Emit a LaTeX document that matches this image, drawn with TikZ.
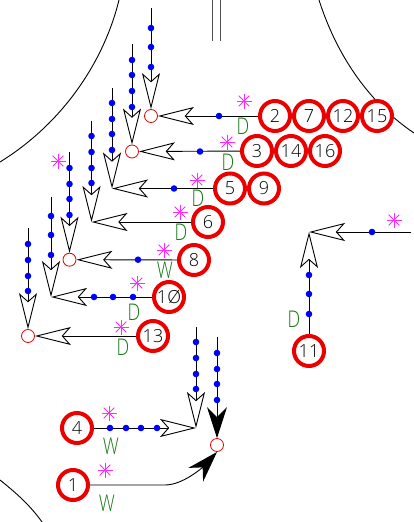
\documentclass[tikz,border=0pt]{standalone}
\usepackage{fontspec}
\setmainfont{Open Sans Light}
\newfontfamily\signfont[FakeStretch=0.78]{Open Sans Light}
\usetikzlibrary{arrows.meta}
\definecolor{signgreen}{RGB}{20,120,20}
\definecolor{pedpink}{RGB}{255,40,255}
\definecolor{phasered}{RGB}{235,0,0}
\definecolor{dotblue}{RGB}{0,0,255}
\tikzset{
  phase/.style={shape=circle,draw=phasered,line width=4pt,fill=white,inner sep=0pt,minimum size=30pt,font=\fontsize{18}{18}\selectfont,text=black},
  junction/.style={shape=circle,draw=phasered,fill=white,line width=0.8pt,inner sep=0pt,minimum size=13pt},
  dot/.style={shape=circle,fill=dotblue,inner sep=0pt,minimum size=6.6pt},
  sign/.style={text=signgreen,inner sep=0pt,font=\signfont\fontsize{23}{23}\selectfont},
  openhead/.style={-{Stealth[open,length=36pt,width=18pt,inset=8pt,line width=0.9pt]}},
  fullhead/.style={-{Stealth[length=31pt,width=20pt,inset=10pt]}},
  pics/ped/.style={code={\foreach \a in {0,45,90,135} \draw[-,pedpink,line width=0.9pt] (\a:7.5pt) -- (\a+180:7.5pt);}}
}
\begin{document}
\begin{tikzpicture}[x=1pt,y=-1pt,line width=0.9pt,openhead]
  \useasboundingbox (0,0) rectangle (414,522);
  % kerb lines
  \draw[-] (119,0) .. controls (103,65) and (60,125) .. (0,162);
  \draw[-] (319,0) .. controls (335,50) and (365,100) .. (414,133);
  \draw[-] (0,480) .. controls (15,492) and (30,505) .. (42,522);
  \draw[-,black!70] (212,0) -- (212,41);
  \draw[-,black!70] (220,0) -- (220,41);
  % junctions
  \node[junction](J2)at(151, 116){};
  \node[junction](J3)at(132, 151.5){};
  \coordinate (J5) at (112, 188.5);
  \coordinate (J6) at (91.5, 222);
  \node[junction](J8)at(69.5, 259.7){};
  \coordinate (J10) at (51, 297);
  \node[junction](J13)at(28, 336){};
  \coordinate (J4) at (196, 428);
  \node[junction](J1)at(217, 445){};
  \coordinate (J1in) at (217, 452);
  \coordinate (J11) at (309, 232);
  % stem tops
  \coordinate (T2) at (151, 8);
  \coordinate (T3) at (132, 44);
  \coordinate (T5) at (112, 88);
  \coordinate (T6) at (91.5, 121);
  \coordinate (T8) at (69.5, 152);
  \coordinate (T10) at (51, 197);
  \coordinate (T13) at (28, 228);
  \coordinate (T4) at (196, 327);
  \coordinate (T1) at (217, 337);
  \coordinate (E11) at (411, 232);
  \coordinate (C1) at (165, 485);
  % phases
  \node[phase](2)at(275, 116){2};
  \node[phase](7)at(309, 116){7};
  \node[phase](12)at(343, 116){12};
  \node[phase](15)at(377, 116){15};
  \node[phase](3)at(257, 151){3};
  \node[phase](14)at(291, 151){14};
  \node[phase](16)at(325, 151){16};
  \node[phase](5)at(230, 188.5){5};
  \node[phase](9)at(264, 188.5){9};
  \node[phase](6)at(208, 222){6};
  \node[phase](8)at(194, 260){8};
  \node[phase](10)at(169, 297){1Ø};
  \node[phase](13)at(153, 336){13};
  \node[phase](4)at(77, 428){4};
  \node[phase](1)at(73, 485){1};
  \node[phase](11)at(309, 351){11};
  % connectors
  \path (T2) edge (J2)
        (2) edge (J2)
        (T3) edge (J3)
        (3) edge (J3)
        (T5) edge (J5)
        (5) edge (J5)
        (T6) edge (J6)
        (6) edge (J6)
        (T8) edge (J8)
        (8) edge (J8)
        (T10) edge (J10)
        (10) edge (J10)
        (T13) edge (J13)
        (13) edge (J13)
        (T4) edge (J4)
        (4) edge (J4)
        (11) edge (J11)
        (E11) edge (J11);
  \draw[fullhead] (T1) -- (J1);
  \draw[fullhead] (1) -- (C1) .. controls (183,485) and (203,467) .. (J1in);
  % dots
  \foreach \y in {28,47,67} \node[dot](a\y)at(151,\y){};
  \foreach \y in {60,75,91,107} \node[dot](b\y)at(132,\y){};
  \foreach \y in {103,119,134,150} \node[dot](c\y)at(112,\y){};
  \foreach \y in {136,152,168,183} \node[dot](d\y)at(91.5,\y){};
  \foreach \y in {168,184,199,215} \node[dot](e\y)at(69.5,\y){};
  \foreach \y in {216,235,255} \node[dot](f\y)at(51,\y){};
  \foreach \y in {244,260,276,291} \node[dot](g\y)at(28,\y){};
  \foreach \y in {342,358,374,389} \node[dot](h\y)at(196,\y){};
  \foreach \y in {353,369,384,400} \node[dot](i\y)at(217,\y){};
  \foreach \y in {275,294,314} \node[dot](k\y)at(309,\y){};
  \foreach \x in {94,113,133} \node[dot](m\x)at(\x,297){};
  \foreach \x in {110,126,141,157} \node[dot](n\x)at(\x,428){};
  \node[dot](o2)at(219,116){};
  \node[dot](o3)at(200,151.5){};
  \node[dot](o5)at(174,188.5){};
  \node[dot](o8)at(138,259.7){};
  \node[dot](o11)at(372,232){};
  % signs
  \node[sign](s2)at(243,126){D};
  \node[sign](s3)at(228,162){D};
  \node[sign](s5)at(198,198){D};
  \node[sign](s6)at(181,232){D};
  \node[sign](s8)at(165,270){W};
  \node[sign](s10)at(134,312){D};
  \node[sign](s13)at(123,347){D};
  \node[sign](s4)at(111,446){W};
  \node[sign](s1)at(107,503){W};
  \node[sign](s11)at(294,319){D};
  % peds
  \foreach \x/\y in {244/101,227/142,197/180,180/212,164/250,137/283,121/327,58/161,109/413,105/470,394/220}
    \pic at (\x,\y) {ped};
\end{tikzpicture}
\end{document}
